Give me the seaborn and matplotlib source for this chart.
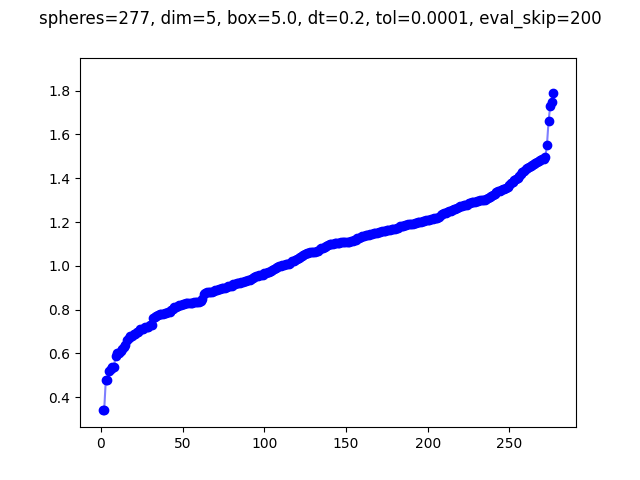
import matplotlib
matplotlib.use("Agg")
import matplotlib.pyplot as plt
import seaborn as sns
import pandas as pd

title = "spheres=277, dim=5, box=5.0, dt=0.2, tol=0.0001, eval_skip=200"

# sorted values (index 1..277)
values = [
    0.34, 0.34, 0.48, 0.48, 0.52, 0.53, 0.54, 0.54, 0.59, 0.60,
    0.60, 0.61, 0.62, 0.63, 0.64, 0.66, 0.67, 0.68, 0.68, 0.69,
    0.69, 0.70, 0.70, 0.71, 0.71, 0.71, 0.72, 0.72, 0.72, 0.73,
    0.73, 0.76, 0.765, 0.77, 0.775, 0.78, 0.78, 0.78, 0.785, 0.785,
    0.79, 0.79, 0.80, 0.805, 0.81, 0.81, 0.815, 0.82, 0.82, 0.825,
    0.825, 0.83, 0.83, 0.83, 0.83, 0.83, 0.835, 0.835, 0.835, 0.835,
    0.84, 0.85, 0.87, 0.875, 0.88, 0.88, 0.88, 0.88, 0.885, 0.89,
    0.89, 0.895, 0.895, 0.90, 0.90, 0.90, 0.905, 0.91, 0.91, 0.91,
    0.915, 0.915, 0.92, 0.92, 0.92, 0.925, 0.925, 0.93, 0.93, 0.935,
    0.935, 0.94, 0.945, 0.95, 0.955, 0.955, 0.96, 0.96, 0.96, 0.965,
    0.965, 0.97, 0.97, 0.975, 0.98, 0.985, 0.99, 0.995, 1.00, 1.00,
    1.005, 1.005, 1.01, 1.01, 1.01, 1.015, 1.02, 1.02, 1.025, 1.03,
    1.035, 1.04, 1.045, 1.05, 1.055, 1.06, 1.06, 1.065, 1.065, 1.065,
    1.065, 1.07, 1.07, 1.075, 1.08, 1.08, 1.085, 1.09, 1.095, 1.10,
    1.10, 1.10, 1.105, 1.105, 1.105, 1.105, 1.11, 1.11, 1.11, 1.11,
    1.11, 1.11, 1.115, 1.115, 1.12, 1.12, 1.125, 1.125, 1.13, 1.135,
    1.135, 1.14, 1.14, 1.14, 1.145, 1.145, 1.15, 1.15, 1.15, 1.155,
    1.155, 1.16, 1.16, 1.16, 1.165, 1.165, 1.165, 1.17, 1.17, 1.17,
    1.175, 1.175, 1.18, 1.18, 1.18, 1.185, 1.185, 1.19, 1.19, 1.19,
    1.19, 1.195, 1.195, 1.20, 1.20, 1.20, 1.205, 1.205, 1.21, 1.21,
    1.21, 1.215, 1.215, 1.22, 1.22, 1.22, 1.225, 1.23, 1.235, 1.24,
    1.24, 1.245, 1.25, 1.25, 1.255, 1.26, 1.26, 1.265, 1.27, 1.275,
    1.275, 1.28, 1.28, 1.28, 1.285, 1.285, 1.29, 1.29, 1.29, 1.295,
    1.295, 1.30, 1.30, 1.30, 1.30, 1.305, 1.31, 1.315, 1.32, 1.325,
    1.33, 1.335, 1.34, 1.34, 1.345, 1.35, 1.35, 1.355, 1.36, 1.37,
    1.38, 1.385, 1.39, 1.395, 1.40, 1.41, 1.42, 1.43, 1.435, 1.44,
    1.445, 1.45, 1.455, 1.46, 1.465, 1.47, 1.475, 1.48, 1.485, 1.49,
    1.49, 1.495, 1.55, 1.66, 1.73, 1.75, 1.79,
]
index = list(range(1, len(values) + 1))

df = pd.DataFrame({"i": index, "v": values})

fig, ax = plt.subplots(figsize=(6.4, 4.8), dpi=100)

# faint connecting line
sns.lineplot(data=df, x="i", y="v", color="blue", alpha=0.5, linewidth=1.5, ax=ax)
# solid markers
sns.scatterplot(data=df, x="i", y="v", color="blue", edgecolor="blue",
                s=36, linewidth=1.0, ax=ax, zorder=3)

ax.set_ylim(0.263, 1.951)
ax.set_xlim(-12.8, 290.8)
ax.set_xlabel("")
ax.set_ylabel("")
fig.suptitle(title, fontsize=12)

plt.savefig("out.png", dpi=100)
